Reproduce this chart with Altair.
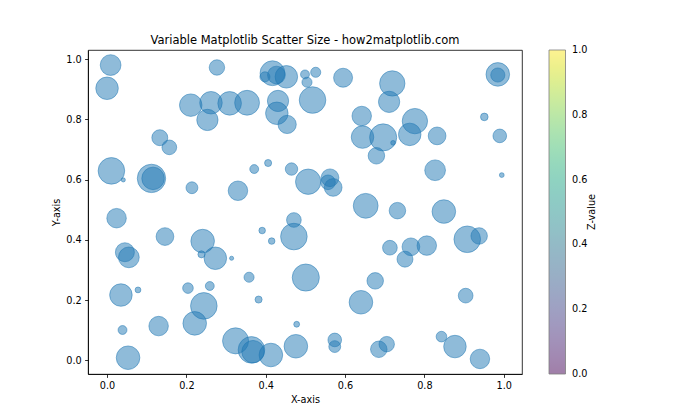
import altair as alt
import pandas as pd

xs = [0.009,0.000,0.277,0.417,0.398,0.427,0.452,0.499,0.526,0.504,
      0.518,0.211,0.262,0.253,0.309,0.353,0.431,0.428,0.454,0.133,
      0.157,0.011,0.041,0.112,0.116,0.214,0.330,0.371,0.406,0.465,
      0.595,0.719,0.711,0.985,0.985,0.642,0.644,0.696,0.721,0.776,
      0.763,0.832,0.679,0.951,0.990,0.827,0.995,0.507,0.562,0.557,
      0.570,0.652,0.732,0.849,0.024,0.146,0.241,0.238,0.273,0.314,
      0.391,0.415,0.471,0.471,0.045,0.055,0.035,0.078,0.204,0.259,
      0.244,0.221,0.358,0.382,0.501,0.039,0.130,0.053,0.324,0.364,
      0.368,0.413,0.476,0.478,0.713,0.766,0.806,0.751,0.908,0.938,
      0.676,0.640,0.904,0.574,0.574,0.685,0.705,0.843,0.877,0.940]

ys = [0.980,0.903,0.972,0.953,0.941,0.947,0.941,0.949,0.956,0.923,
      0.864,0.847,0.855,0.798,0.853,0.855,0.861,0.820,0.783,0.739,
      0.707,0.629,0.599,0.604,0.604,0.573,0.563,0.635,0.655,0.635,
      0.938,0.919,0.858,0.949,0.947,0.811,0.741,0.740,0.722,0.794,
      0.750,0.745,0.679,0.808,0.745,0.631,0.615,0.593,0.606,0.591,
      0.574,0.513,0.497,0.494,0.472,0.411,0.396,0.352,0.339,0.339,
      0.431,0.396,0.466,0.411,0.359,0.342,0.217,0.234,0.240,0.247,
      0.181,0.123,0.276,0.202,0.275,0.101,0.114,0.009,0.065,0.035,
      0.029,0.018,0.047,0.120,0.374,0.377,0.381,0.336,0.402,0.413,
      0.264,0.193,0.215,0.068,0.046,0.037,0.054,0.079,0.046,0.005]

sizes = [430,507,238,616,102,314,507,79,102,102,
         707,507,507,452,556,616,452,507,333,254,
         216,707,17,804,507,141,380,79,50,154,
         360,642,452,556,201,380,507,735,23,642,
         507,314,272,58,186,430,23,642,314,216,
         314,616,272,556,380,314,556,50,507,17,
         43,43,216,707,360,430,507,34,113,79,
         707,556,102,50,735,79,380,556,679,707,
         507,556,556,34,216,314,380,254,707,272,
         272,556,216,186,141,272,238,113,507,380]

z_range = [0.0, 1.0]
ticks = [0.0, 0.2, 0.4, 0.6, 0.8, 1.0]
colorbar_title = ["Z-value"]

df = pd.DataFrame({"x": xs, "y": ys, "s": sizes})
dz = pd.DataFrame({"z": z_range})
dt = pd.DataFrame({"t": colorbar_title})

points = alt.Chart(df).mark_circle(
    color="#1f77b4", fillOpacity=0.5, stroke="#1f77b4", strokeWidth=1, strokeOpacity=0.5
).encode(
    x=alt.X("x:Q", title="X-axis",
            scale=alt.Scale(domain=[-0.048, 1.046], nice=False, zero=False),
            axis=alt.Axis(values=ticks, format=".1f")),
    y=alt.Y("y:Q", title="Y-axis",
            scale=alt.Scale(domain=[-0.045, 1.030], nice=False, zero=False),
            axis=alt.Axis(values=ticks, format=".1f")),
    size=alt.Size("s:Q", scale=None),
)

dummy = alt.Chart(dz).mark_circle(size=0).encode(
    x=alt.value(0), y=alt.value(0),
    color=alt.Color("z:Q", title=None,
                    scale=alt.Scale(scheme="viridis", domain=[-0.001, 1.001], nice=False),
                    legend=alt.Legend(values=ticks, format=".1f", orient="right", offset=27,
                                      gradientLength=324, gradientThickness=16.5,
                                      gradientOpacity=0.5,
                                      gradientStrokeColor="#000", gradientStrokeWidth=0.8,
                                      labelOffset=6.5, labelBaseline="middle", padding=0)),
)

cbar_title = alt.Chart(dt).mark_text(
    angle=270, font="DejaVu Sans", fontSize=9.7, color="#000", align="center", baseline="middle"
).encode(x=alt.value(504), y=alt.value(162), text="t:N")

chart = alt.layer(points, dummy, cbar_title).properties(
    width=434, height=324,
    title=alt.TitleParams("Variable Matplotlib Scatter Size - how2matplotlib.com",
                          fontSize=11.5, fontWeight="normal", font="DejaVu Sans",
                          color="#000", offset=4),
    autosize=alt.AutoSizeParams(type="none"),
    padding={"left": 80, "top": 42, "right": 170, "bottom": 34},
).configure_view(
    stroke="#000", strokeWidth=0.8
).configure_axis(
    grid=False, labelFont="DejaVu Sans", titleFont="DejaVu Sans",
    labelFontSize=9.7, titleFontSize=9.7, labelColor="#000", titleColor="#000",
    titleFontWeight="normal", domainColor="#000", tickColor="#000",
    tickSize=3.4, labelPadding=3.4, titlePadding=4, domainWidth=0.8, tickWidth=0.8,
).configure_legend(
    labelFont="DejaVu Sans", labelFontSize=9.7, labelColor="#000",
)

chart.save("out.html", embed_options={"renderer": "svg", "actions": False})
